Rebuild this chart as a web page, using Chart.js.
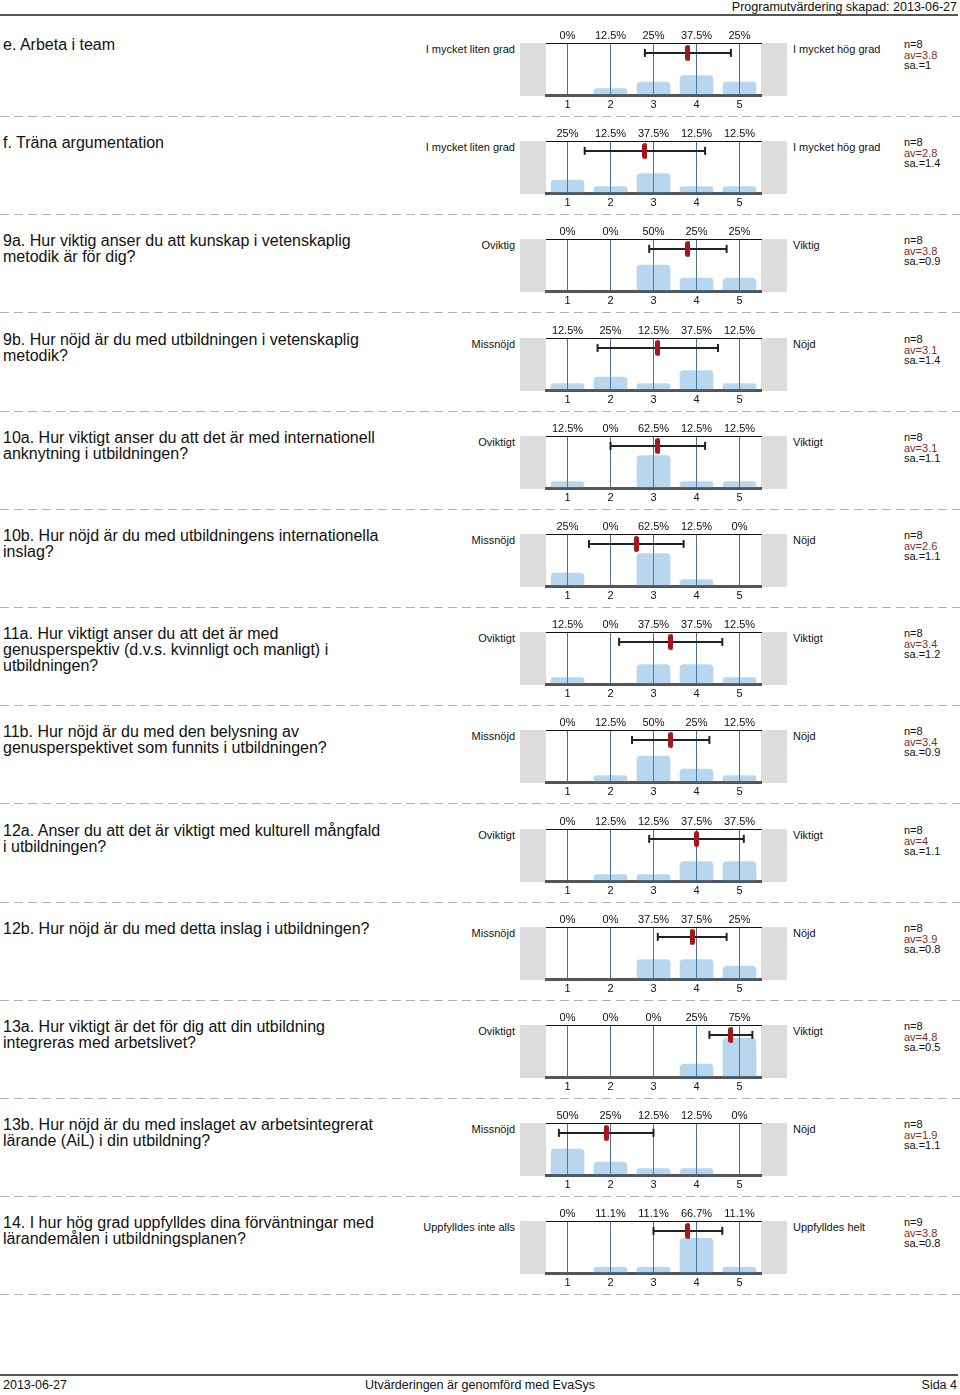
<!DOCTYPE html>
<html><head><meta charset="utf-8">
<script src="https://cdn.jsdelivr.net/npm/chart.js@4.4.0/dist/chart.umd.min.js"></script>
<style>
body{margin:0;width:960px;height:1395px;position:relative;background:#fff;font-family:"Liberation Sans",Arial,sans-serif;color:#111;overflow:hidden}
.abs{position:absolute}
.q{left:3px;font-size:16px;line-height:16px;white-space:nowrap}
.ll{font-size:11px;line-height:12px;text-align:right;width:200px;left:315px;white-space:nowrap}
.rl{font-size:11px;line-height:12px;left:793px;white-space:nowrap}
.st{font-size:11px;left:904px;line-height:10.5px;white-space:nowrap}
.sep{left:0;width:960px;height:1px;background:repeating-linear-gradient(to right,#b0b0b0 0 9px,transparent 9px 14px)}
.hl{left:0;width:958px;height:2px;background:#555}
.ft{font-size:12.5px;line-height:14px;white-space:nowrap}
</style></head><body>
<script>
const FONT = '"Liberation Sans", Arial, sans-serif';

const questions = [
  ["e. Arbeta i team"],
  ["f. Träna argumentation"],
  ["9a. Hur viktig anser du att kunskap i vetenskaplig", "metodik är för dig?"],
  ["9b. Hur nöjd är du med utbildningen i vetenskaplig", "metodik?"],
  ["10a. Hur viktigt anser du att det är med internationell", "anknytning i utbildningen?"],
  ["10b. Hur nöjd är du med utbildningens internationella", "inslag?"],
  ["11a. Hur viktigt anser du att det är med", "genusperspektiv (d.v.s. kvinnligt och manligt) i", "utbildningen?"],
  ["11b. Hur nöjd är du med den belysning av", "genusperspektivet som funnits i utbildningen?"],
  ["12a. Anser du att det är viktigt med kulturell mångfald", "i utbildningen?"],
  ["12b. Hur nöjd är du med detta inslag i utbildningen?"],
  ["13a. Hur viktigt är det för dig att din utbildning", "integreras med arbetslivet?"],
  ["13b. Hur nöjd är du med inslaget av arbetsintegrerat", "lärande (AiL) i din utbildning?"],
  ["14. I hur hög grad uppfylldes dina förväntningar med", "lärandemålen i utbildningsplanen?"]
];
const lowLabels = ["I mycket liten grad","I mycket liten grad","Oviktig","Missnöjd","Oviktigt","Missnöjd","Oviktigt","Missnöjd","Oviktigt","Missnöjd","Oviktigt","Missnöjd","Uppfylldes inte alls"];
const highLabels = ["I mycket hög grad","I mycket hög grad","Viktig","Nöjd","Viktigt","Nöjd","Viktigt","Nöjd","Viktigt","Nöjd","Viktigt","Nöjd","Uppfylldes helt"];
const scaleTicks = [1, 2, 3, 4, 5];
const percentages = [
  [0, 12.5, 25, 37.5, 25],
  [25, 12.5, 37.5, 12.5, 12.5],
  [0, 0, 50, 25, 25],
  [12.5, 25, 12.5, 37.5, 12.5],
  [12.5, 0, 62.5, 12.5, 12.5],
  [25, 0, 62.5, 12.5, 0],
  [12.5, 0, 37.5, 37.5, 12.5],
  [0, 12.5, 50, 25, 12.5],
  [0, 12.5, 12.5, 37.5, 37.5],
  [0, 0, 37.5, 37.5, 25],
  [0, 0, 0, 25, 75],
  [50, 25, 12.5, 12.5, 0],
  [0, 11.1, 11.1, 66.7, 11.1]
];
const nValues = [8, 8, 8, 8, 8, 8, 8, 8, 8, 8, 8, 8, 9];
const avValues = [3.8, 2.8, 3.8, 3.1, 3.1, 2.6, 3.4, 3.4, 4, 3.9, 4.8, 1.9, 3.8];
const sdValues = [1, 1.4, 0.9, 1.4, 1.1, 1.1, 1.2, 0.9, 1.1, 0.8, 0.5, 1.1, 0.8];

const ROW0 = 43, ROWH = 98.2, MEAN_Y = 81;
function rowTop(i){ return Math.round(ROW0 + i*ROWH); }

function addDiv(cls, top, html, extra){
  const d = document.createElement('div');
  d.className = 'abs ' + cls;
  d.style.top = top + 'px';
  if (extra) Object.assign(d.style, extra);
  d.innerHTML = html;
  document.body.appendChild(d);
  return d;
}

// header / footer
addDiv('ft', 0, 'Programutvärdering skapad: 2013-06-27', {right:'3px'});
addDiv('hl', 14, '');
addDiv('hl', 1374, '');
addDiv('ft', 1378, '2013-06-27', {left:'3px'});
addDiv('ft', 1378, 'Utvärderingen är genomförd med EvaSys', {left:'0', width:'960px', textAlign:'center'});
addDiv('ft', 1378, 'Sida 4', {right:'3px'});

// mean marker image
const capsule = document.createElement('canvas');
capsule.width = 5; capsule.height = 16;
(function(){
  const c = capsule.getContext('2d');
  c.fillStyle = '#a3181b';
  c.beginPath();
  if (c.roundRect) c.roundRect(0, 0, 5, 16, 2.5); else c.rect(0,0,5,16);
  c.fill();
})();

const greyBoxes = {
  id: 'greyBoxes',
  beforeDraw(chart){
    const {ctx, chartArea:a} = chart;
    ctx.save();
    ctx.fillStyle = '#dcdcdc';
    ctx.fillRect(a.left - 26, a.top, 26, a.bottom - a.top + 1);
    ctx.fillRect(a.right, a.top, 26, a.bottom - a.top + 1);
    ctx.restore();
  }
};

const fmtPct = p => String(p) + '%';

questions.forEach((lines, i) => {
  const t = rowTop(i);
  addDiv('q', t - 6, lines.join('<br>'));
  addDiv('ll', t, lowLabels[i]);
  addDiv('rl', t, highLabels[i]);
  addDiv('st', t - 4, 'n=' + nValues[i] + '<br><span style="color:#8b2a2a">av=' + avValues[i] + '</span><br>sa.=' + sdValues[i]);
  addDiv('sep', t + 73, '');

  const cv = document.createElement('canvas');
  cv.width = 300; cv.height = 96;
  Object.assign(cv.style, {position:'absolute', left:'500px', top:(t - 22) + 'px', width:'300px', height:'96px'});
  document.body.appendChild(cv);

  const av = avValues[i], sd = sdValues[i];
  const setTicks = s => { s.ticks = scaleTicks.map(v => ({value: v})); };

  new Chart(cv, {
    type: 'bar',
    data: {
      datasets: [
        {
          type: 'scatter', order: 1, xAxisID: 'x', yAxisID: 'y',
          data: [{x: av, y: MEAN_Y}],
          pointStyle: capsule, pointRadius: 8, clip: false
        },
        {
          type: 'line', order: 2, xAxisID: 'x', yAxisID: 'y',
          data: [{x: av - sd, y: MEAN_Y}, {x: av + sd, y: MEAN_Y}],
          borderColor: '#222', borderWidth: 2, fill: false, tension: 0,
          pointStyle: 'line', pointRotation: 90, pointRadius: 4,
          pointBorderWidth: 2, pointBorderColor: '#222', clip: false
        },
        {
          type: 'bar', order: 3, xAxisID: 'x', yAxisID: 'y',
          data: scaleTicks.map((v, k) => ({x: v, y: percentages[i][k]})),
          backgroundColor: 'rgba(60,140,210,0.36)',
          barThickness: 33, borderRadius: 4, borderWidth: 0
        }
      ]
    },
    options: {
      responsive: false, animation: false, events: [], devicePixelRatio: 1,
      layout: {padding: {left: 46, right: 39, top: 0, bottom: 0}},
      plugins: {legend: {display: false}, tooltip: {enabled: false}},
      scales: {
        x: {
          type: 'linear', position: 'bottom', min: 0.5, max: 5.5, offset: false,
          afterBuildTicks: setTicks,
          afterFit: s => { s.height = 22; },
          grid: {display: true, drawOnChartArea: true, drawTicks: false, color: '#4b6f8c', lineWidth: 1, offset: false},
          border: {display: true, color: '#555', width: 3},
          ticks: {padding: 3, font: {size: 11, family: FONT}, color: '#111', maxRotation: 0, autoSkip: false,
                  callback: v => String(v)}
        },
        xTop: {
          type: 'linear', position: 'top', min: 0.5, max: 5.5, offset: false,
          afterBuildTicks: setTicks,
          afterFit: s => { s.height = 22; },
          grid: {display: true, drawOnChartArea: false, drawTicks: false},
          border: {display: true, color: '#111', width: 1},
          ticks: {padding: 0, font: {size: 11, family: FONT}, color: '#111', maxRotation: 0, autoSkip: false,
                  callback: v => fmtPct(percentages[i][v - 1])}
        },
        y: {display: false, min: 0, max: 100}
      }
    },
    plugins: [greyBoxes]
  });
});
</script>
</body></html>
